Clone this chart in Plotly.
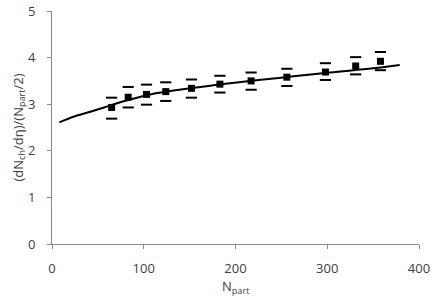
import plotly.graph_objects as go

npart = [65, 83, 103, 124, 152, 183, 217, 256, 298, 331, 358]
ratio = [2.93, 3.15, 3.21, 3.27, 3.34, 3.43, 3.50, 3.58, 3.69, 3.82, 3.92]
err_up = [0.21, 0.22, 0.21, 0.20, 0.19, 0.18, 0.18, 0.18, 0.19, 0.19, 0.20]
err_dn = [0.24, 0.22, 0.22, 0.20, 0.20, 0.18, 0.19, 0.19, 0.17, 0.18, 0.19]

curve_x = [8, 25, 47, 63, 85, 107, 150, 194, 250, 303, 350, 379]
curve_y = [2.61, 2.74, 2.87, 2.97, 3.10, 3.21, 3.34, 3.45, 3.57, 3.68, 3.77, 3.84]

upper = [v + e for v, e in zip(ratio, err_up)]
lower = [v - e for v, e in zip(ratio, err_dn)]

fig = go.Figure()
fig.add_trace(go.Scatter(x=curve_x, y=curve_y, mode="lines", line=dict(color="black", width=2, shape="spline"),
                         showlegend=False))
fig.add_trace(go.Scatter(x=npart + npart, y=upper + lower, mode="markers",
                         marker=dict(symbol="line-ew", size=8, line=dict(color="black", width=2)),
                         showlegend=False))
fig.add_trace(go.Scatter(x=npart, y=ratio, mode="markers",
                         marker=dict(symbol="square", size=7, color="black"), showlegend=False))

fnt = dict(family="Open Sans, Noto Sans, sans-serif", size=13, color="#404040")
fig.update_layout(
    width=433, height=300,
    margin=dict(l=52, r=14, t=11, b=56),
    paper_bgcolor="white", plot_bgcolor="white",
    font=fnt,
    xaxis=dict(range=[0, 400], tickvals=[0, 100, 200, 300, 400], showgrid=False, zeroline=False,
               showline=True, linecolor="#888888", linewidth=1, ticks="outside", ticklen=4,
               tickcolor="#888888", automargin=False, ticklabelstandoff=8),
    yaxis=dict(range=[0, 5], tickvals=[0, 1, 2, 3, 4, 5], showgrid=False, zeroline=False,
               showline=True, linecolor="#888888", linewidth=1, ticks="outside", ticklen=4,
               tickcolor="#888888", automargin=False, ticklabelstandoff=9),
    annotations=[
        dict(text="N<sub>part</sub>", xref="paper", yref="paper", x=0.5, y=0, yshift=-43,
             xanchor="center", yanchor="middle", showarrow=False, font=fnt),
        dict(text="(dN<sub>ch</sub>/dη)/(N<sub>part</sub>/2)", xref="paper", yref="paper", x=0, y=0.5,
             xshift=-34, textangle=-90, xanchor="center", yanchor="middle", showarrow=False, font=fnt),
    ],
)
fig.write_html("out.html", config={"displayModeBar": False},
               post_script="document.body.style.margin='0';")
